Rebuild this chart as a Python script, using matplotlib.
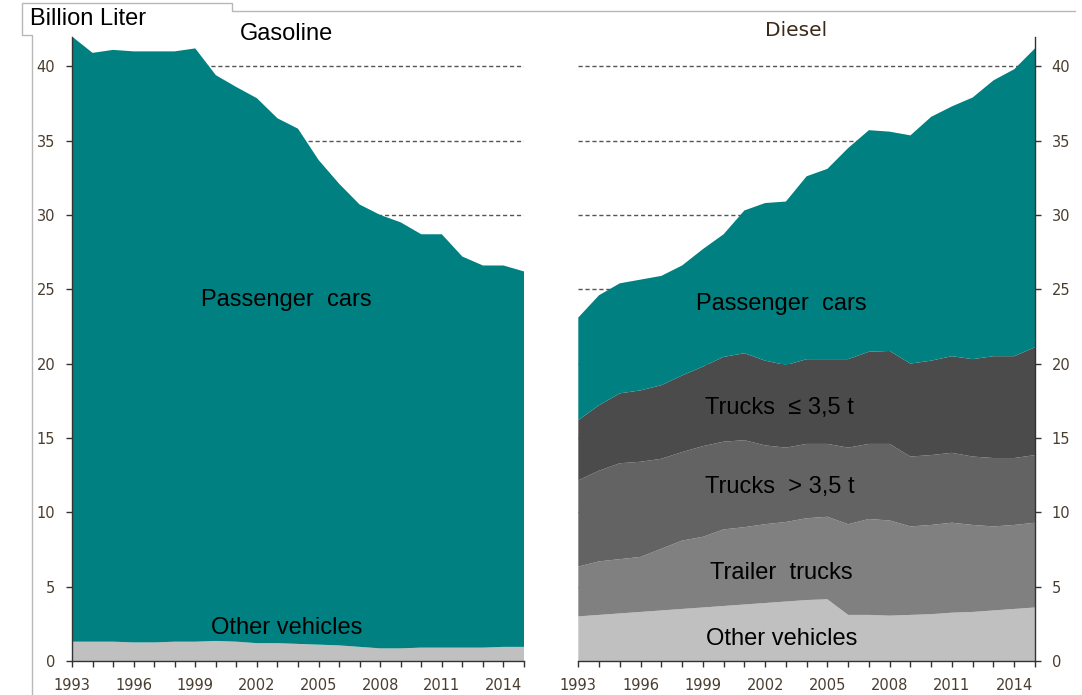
import matplotlib
matplotlib.use('Agg')
import matplotlib.pyplot as plt
from matplotlib.lines import Line2D

years = list(range(1993, 2016))
yearLabels = [1993, 1996, 1999, 2002, 2005, 2008, 2011, 2014]
yTicks = [0, 5, 10, 15, 20, 25, 30, 35, 40]

# gasoline (billion liter)
gasOther = [1.3, 1.3, 1.3, 1.25, 1.25, 1.3, 1.3, 1.35, 1.3, 1.2, 1.2, 1.15,
            1.1, 1.05, 0.95, 0.85, 0.85, 0.9, 0.9, 0.9, 0.9, 0.95, 0.95]
gasCars = [40.7, 39.6, 39.8, 39.75, 39.75, 39.7, 39.9, 38.05, 37.3, 36.65, 35.3, 34.65,
           32.6, 31.05, 29.75, 29.15, 28.65, 27.8, 27.8, 26.3, 25.7, 25.65, 25.25]

# diesel (billion liter)
dieselOther = [3.0, 3.1, 3.2, 3.3, 3.4, 3.5, 3.6, 3.7, 3.8, 3.9, 4.0, 4.1,
               4.15, 3.1, 3.1, 3.05, 3.1, 3.15, 3.25, 3.3, 3.4, 3.5, 3.6]
dieselTrailer = [3.35, 3.6, 3.65, 3.7, 4.15, 4.6, 4.75, 5.15, 5.2, 5.3, 5.35, 5.5,
                 5.55, 6.1, 6.45, 6.4, 5.95, 6.0, 6.05, 5.85, 5.65, 5.65, 5.7]
dieselHeavy = [5.8, 6.1, 6.45, 6.4, 6.05, 5.95, 6.1, 5.9, 5.85, 5.3, 5.0, 5.0,
               4.9, 5.15, 5.05, 5.15, 4.7, 4.7, 4.7, 4.6, 4.6, 4.5, 4.55]
dieselLight = [4.05, 4.4, 4.7, 4.8, 4.95, 5.15, 5.35, 5.7, 5.85, 5.7, 5.55, 5.7,
               5.7, 5.95, 6.2, 6.25, 6.25, 6.35, 6.5, 6.55, 6.85, 6.85, 7.25]
dieselCars = [6.9, 7.4, 7.4, 7.45, 7.35, 7.4, 7.9, 8.25, 9.6, 10.6, 11.0, 12.3,
              12.8, 14.2, 14.9, 14.75, 15.35, 16.4, 16.8, 17.6, 18.55, 19.3, 20.1]

teal = '#008080'
colOther = '#c0c0c0'
colTrailer = '#808080'
colHeavy = '#636363'
colLight = '#4b4b4b'
tickCol = '#4a3d30'
labelFont = ['Liberation Sans', 'DejaVu Sans']


def style_axis(ax, side):
	ax.set_xlim(1993, 2015)
	ax.set_ylim(0, 42)
	ax.set_axisbelow(True)
	ax.grid(axis='y', linestyle=(0, (3, 2)), color='#555555', linewidth=1.0)
	ax.grid(axis='x', visible=False)
	ax.spines['top'].set_visible(False)
	if side == 'left':
		ax.spines['right'].set_visible(False)
	else:
		ax.spines['left'].set_visible(False)
		ax.yaxis.tick_right()
	for s in ax.spines.values():
		s.set_color('#333333')
		s.set_linewidth(1.0)
	ax.set_xticks(yearLabels)
	ax.set_xticks(years, minor=True)
	ax.set_yticks(yTicks)
	ax.tick_params(axis='both', which='both', direction='out', length=4, width=1,
	               color='#333333', labelcolor=tickCol, labelsize=10.5)
	ax.tick_params(axis='x', pad=8)
	ax.tick_params(axis='y', pad=8)


fig = plt.figure(figsize=(10.82, 6.95), dpi=100)
axGas = fig.add_axes([72 / 1082, 34 / 695, 452 / 1082, 624.5 / 695])
axDie = fig.add_axes([578.3 / 1082, 34 / 695, 456.7 / 1082, 624.5 / 695])

axGas.stackplot(years, gasOther, gasCars, colors=[colOther, teal], linewidth=0)
axDie.stackplot(years, dieselOther, dieselTrailer, dieselHeavy, dieselLight, dieselCars,
                colors=[colOther, colTrailer, colHeavy, colLight, teal], linewidth=0)

style_axis(axGas, 'left')
style_axis(axDie, 'right')

# labels inside the areas
axGas.text(2003.45, 24.3, 'Passenger  cars', ha='center', va='center', fontsize=17, family=labelFont)
axGas.text(2003.45, 2.25, 'Other vehicles', ha='center', va='center', fontsize=17, family=labelFont)
axGas.text(2003.45, 42.2, 'Gasoline', ha='center', va='center', fontsize=17, family=labelFont, clip_on=False)

axDie.text(2003.5, 42.4, 'Diesel', ha='center', va='center', fontsize=14.5, color='#3a2a1a', clip_on=False)
axDie.text(2002.8, 24.0, 'Passenger  cars', ha='center', va='center', fontsize=17, family=labelFont)
axDie.text(2002.7, 17.0, 'Trucks  \u2264 3,5 t', ha='center', va='center', fontsize=17, family=labelFont)
axDie.text(2002.7, 11.7, 'Trucks  > 3,5 t', ha='center', va='center', fontsize=17, family=labelFont)
axDie.text(2002.8, 5.9, 'Trailer  trucks', ha='center', va='center', fontsize=17, family=labelFont)
axDie.text(2002.8, 1.5, 'Other vehicles', ha='center', va='center', fontsize=17, family=labelFont)

# outer frame with the unit tab (figure pixel coords)
W, H = 1082.0, 695.0
frameCol = '#b8b8b8'
pts = [(32, 695), (32, 35), (22, 35), (22, 3), (232, 3), (232, 11), (1075, 11)]
xs = [p[0] / W for p in pts]
ys = [1 - p[1] / H for p in pts]
fig.add_artist(Line2D(xs, ys, color=frameCol, linewidth=1.0))
fig.text(30 / W, 1 - 19 / H, 'Billion Liter', ha='left', va='center', fontsize=17, family=labelFont)

plt.savefig('out.png', dpi=100)
